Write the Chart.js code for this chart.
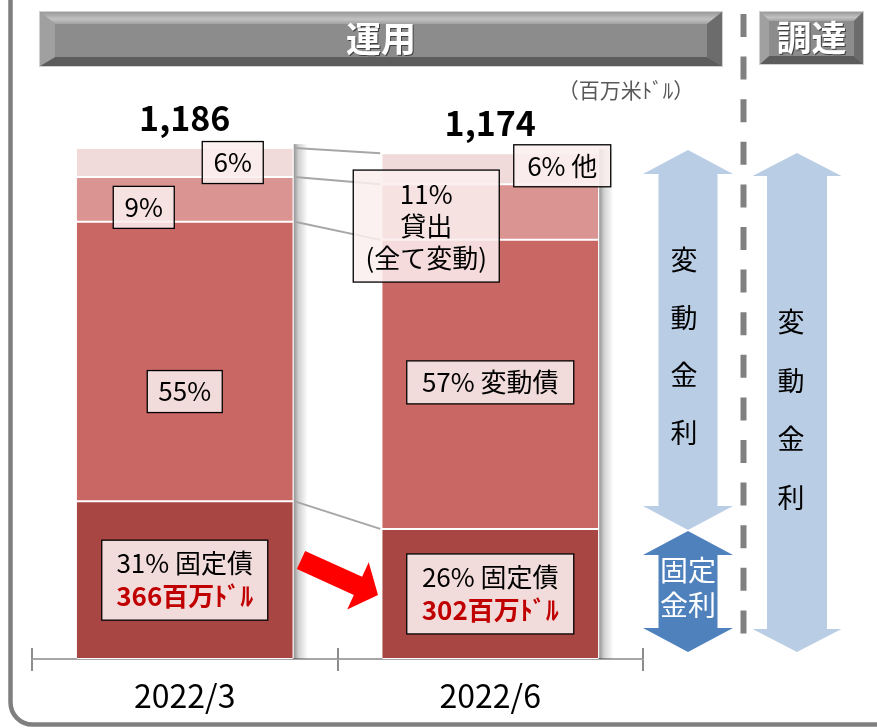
<!doctype html>
<html lang="ja">
  <head>
    <meta charset="UTF-8" />
    <title>運用・調達</title>
    <script src="https://cdn.jsdelivr.net/npm/chart.js"></script>
    <style>
      html, body { margin: 0; padding: 0; background: #fff; }
      #wrap { width: 877px; height: 728px; }
    </style>
  </head>
  <body>
    <div id="wrap"><canvas id="chart" width="877" height="728"></canvas></div>

    <script>
      // Data (百万米ﾄﾞﾙ)
      const periods = ["2022/3", "2022/6"];
      const fixedBonds = [366, 302];
      const floatBonds = [649, 671];
      const loans = [104, 129];
      const others = [67, 72];
      const yMax = 1300;

      const FONT = '"Noto Sans CJK JP", "Noto Sans", sans-serif';
      const totals = periods.map((_, i) => fixedBonds[i] + floatBonds[i] + loans[i] + others[i]);
      const pct = (v, i) => Math.round((v / totals[i]) * 100) + "%";

      // label boxes: dataset index, bar index, offset from segment centre, box size
      const labelBoxes = [
        { ds: 3, i: 0, dx: 48, dy: 0, w: 61, h: 42, light: true, lines: [pct(others[0], 0)] },
        { ds: 2, i: 0, dx: -41, dy: 8, w: 61, h: 42, light: true, lines: [pct(loans[0], 0)] },
        { ds: 1, i: 0, dx: 0, dy: 30, w: 75, h: 42, lines: [pct(floatBonds[0], 0)] },
        { ds: 0, i: 0, dx: 0, dy: 0, w: 166, h: 80, lines: [pct(fixedBonds[0], 0) + " 固定債"], red: fixedBonds[0] + "百万ﾄﾞﾙ" },
        { ds: 3, i: 1, dx: 72, dy: -3, w: 97, h: 42, light: true, lines: [pct(others[1], 1) + " 他"] },
        { ds: 2, i: 1, dx: -64, dy: 14, w: 146, h: 112, light: true, lines: [pct(loans[1], 1), "貸出", "(全て変動)"] },
        { ds: 1, i: 1, dx: 0, dy: -2, w: 167, h: 43, lines: [pct(floatBonds[1], 1) + " 変動債"] },
        { ds: 0, i: 1, dx: 0, dy: 0, w: 167, h: 80, lines: [pct(fixedBonds[1], 1) + " 固定債"], red: fixedBonds[1] + "百万ﾄﾞﾙ" },
      ];

      function poly(ctx, pts, fill) {
        ctx.beginPath();
        pts.forEach((p, k) => (k ? ctx.lineTo(p[0], p[1]) : ctx.moveTo(p[0], p[1])));
        ctx.closePath();
        ctx.fillStyle = fill;
        ctx.fill();
      }

      function bevelBox(ctx, x, y, w, h, bs, bt, bb, text) {
        ctx.fillStyle = "#d0d0d0";
        ctx.fillRect(x - 1, y - 1, w + 2, h + 2);
        ctx.fillStyle = "#8c8c8c";
        ctx.fillRect(x, y, w, h);
        const gt = ctx.createLinearGradient(0, y, 0, y + bt);
        gt.addColorStop(0, "#9a9a9a");
        gt.addColorStop(0.6, "#c2c2c2");
        gt.addColorStop(1, "#a2a2a2");
        poly(ctx, [[x, y], [x + w, y], [x + w - bs, y + bt], [x + bs, y + bt]], gt);
        poly(ctx, [[x, y + h], [x + w, y + h], [x + w - bs, y + h - bb], [x + bs, y + h - bb]], "#5c5c5c");
        poly(ctx, [[x, y], [x + bs, y + bt], [x + bs, y + h - bb], [x, y + h]], "#a0a0a0");
        poly(ctx, [[x + w, y], [x + w - bs, y + bt], [x + w - bs, y + h - bb], [x + w, y + h]], "#6c6c6c");
        ctx.font = "bold 35px " + FONT;
        ctx.textAlign = "center";
        ctx.textBaseline = "middle";
        ctx.fillStyle = "#404040";
        ctx.fillText(text, x + w / 2 + 1, y + h / 2 + 1);
        ctx.fillStyle = "#fff";
        ctx.fillText(text, x + w / 2, y + h / 2);
      }

      function doubleArrow(ctx, cx, top, bottom, shaftW, headW, headLen, color) {
        poly(ctx, [
          [cx, top], [cx + headW / 2, top + headLen], [cx + shaftW / 2, top + headLen],
          [cx + shaftW / 2, bottom - headLen], [cx + headW / 2, bottom - headLen], [cx, bottom],
          [cx - headW / 2, bottom - headLen], [cx - shaftW / 2, bottom - headLen],
          [cx - shaftW / 2, top + headLen], [cx - headW / 2, top + headLen],
        ], color);
      }

      const decor = {
        id: "decor",
        beforeDatasetsDraw(chart) {
          const ctx = chart.ctx;
          const base = chart.getDatasetMeta(0).data;
          const top = chart.getDatasetMeta(3).data;
          ctx.save();
          base.forEach((bar, i) => {
            const r = bar.x + bar.width / 2 + 1;
            const g = ctx.createLinearGradient(r, 0, r + 14, 0);
            g.addColorStop(0, "rgba(0,0,0,0.42)");
            g.addColorStop(0.35, "rgba(0,0,0,0.18)");
            g.addColorStop(1, "rgba(0,0,0,0)");
            ctx.fillStyle = g;
            ctx.fillRect(r, top[i].y - 4, 14, bar.base - top[i].y + 4);
          });
          ctx.restore();
        },
        afterDatasetsDraw(chart) {
          const ctx = chart.ctx;
          ctx.save();

          // connector lines between the two bars
          const metas = [0, 1, 2, 3].map((d) => chart.getDatasetMeta(d).data);
          ctx.strokeStyle = "#a6a6a6";
          ctx.lineWidth = 2;
          for (let d = 0; d < 4; d++) {
            const a = metas[d][0], b = metas[d][1];
            ctx.beginPath();
            ctx.moveTo(a.x + a.width / 2 + 2, a.y);
            ctx.lineTo(b.x - b.width / 2 - 2, b.y);
            ctx.stroke();
          }

          // totals above bars
          ctx.font = "bold 34px " + FONT;
          ctx.fillStyle = "#000";
          ctx.textAlign = "center";
          ctx.textBaseline = "middle";
          metas[3].forEach((bar, i) => {
            ctx.fillText(totals[i].toLocaleString("en-US"), bar.x, bar.y - 30);
          });

          // label boxes
          labelBoxes.forEach((lb) => {
            const bar = metas[lb.ds][lb.i];
            const cx = bar.x + lb.dx;
            const cy = (bar.y + bar.base) / 2 + lb.dy;
            ctx.fillStyle = lb.light ? "rgba(251,239,239,0.86)" : "#f2dcdb";
            ctx.fillRect(cx - lb.w / 2, cy - lb.h / 2, lb.w, lb.h);
            ctx.strokeStyle = "#000";
            ctx.lineWidth = 1.3;
            ctx.strokeRect(cx - lb.w / 2, cy - lb.h / 2, lb.w, lb.h);
            ctx.font = "26px " + FONT;
            ctx.fillStyle = "#000";
            if (lb.red) {
              ctx.fillText(lb.lines[0], cx, cy - 17);
              ctx.font = "bold 26px " + FONT;
              ctx.fillStyle = "#c00000";
              ctx.fillText(lb.red, cx, cy + 16);
            } else {
              const n = lb.lines.length;
              lb.lines.forEach((t, k) => ctx.fillText(t, cx, cy + (k - (n - 1) / 2) * 32));
            }
          });

          // red arrow between fixed bond segments
          const tail = [301, 560], tip = [378, 595];
          const L = Math.hypot(tip[0] - tail[0], tip[1] - tail[1]);
          const d = [(tip[0] - tail[0]) / L, (tip[1] - tail[1]) / L];
          const n = [d[1], -d[0]];
          const hb = [tip[0] - d[0] * 22, tip[1] - d[1] * 22];
          const P = (p, k, w) => [p[0] + n[0] * w * k, p[1] + n[1] * w * k];
          poly(ctx, [P(tail, 1, 10), P(hb, 1, 10), P(hb, 1, 26), tip, P(hb, -1, 26), P(hb, -1, 10), P(tail, -1, 10)], "#ff0000");

          ctx.restore();
        },
        afterDraw(chart) {
          const ctx = chart.ctx;
          const xs = chart.scales.x;
          ctx.save();

          // upward halves of the category tick marks
          ctx.strokeStyle = "#8c8c8c";
          ctx.lineWidth = 2;
          for (let k = 0; k <= periods.length; k++) {
            const gx = Math.round(xs.left + (k * xs.width) / periods.length);
            ctx.beginPath();
            ctx.moveTo(gx, xs.top - 11);
            ctx.lineTo(gx, xs.top);
            ctx.stroke();
          }

          // outer frame
          ctx.strokeStyle = "#7f7f7f";
          ctx.lineWidth = 4.5;
          ctx.beginPath();
          ctx.moveTo(10.5, 0);
          ctx.lineTo(10.5, 700);
          ctx.arcTo(10.5, 724.5, 35, 724.5, 22);
          ctx.lineTo(880, 724.5);
          ctx.stroke();

          // header bars
          bevelBox(ctx, 40, 12, 682, 54, 15, 12, 9, "運用");
          bevelBox(ctx, 760, 12, 103, 52, 9, 9, 8, "調達");

          // unit
          ctx.font = "21px " + FONT;
          ctx.fillStyle = "#595959";
          ctx.textAlign = "center";
          ctx.textBaseline = "middle";
          ctx.fillText("（百万米ﾄﾞﾙ）", 626, 90);

          // dashed divider
          ctx.strokeStyle = "#808080";
          ctx.lineWidth = 6;
          ctx.setLineDash([23, 19.6]);
          ctx.beginPath();
          ctx.moveTo(743.5, 14);
          ctx.lineTo(743.5, 634);
          ctx.stroke();
          ctx.setLineDash([]);

          // rate type arrows
          doubleArrow(ctx, 688, 150, 530, 59, 90, 24, "#b9cde5");
          doubleArrow(ctx, 688, 531, 652, 59, 90, 24, "#4f81bd");
          doubleArrow(ctx, 797, 153, 652, 60, 89, 23, "#b9cde5");

          ctx.font = "27px " + FONT;
          ctx.fillStyle = "#000";
          ["変", "動", "金", "利"].forEach((c, k) => {
            ctx.fillText(c, 684, 260 + k * 57.5);
            ctx.fillText(c, 791, 322 + k * 58.5);
          });
          ctx.font = "28px " + FONT;
          ctx.fillStyle = "#fff";
          ctx.fillText("固定", 688, 570);
          ctx.fillText("金利", 688, 605);

          ctx.restore();
        },
      };

      const ctx = document.getElementById("chart").getContext("2d");

      const chart = new Chart(ctx, {
        type: "bar",
        data: {
          labels: periods,
          datasets: [
            { label: "固定債", data: fixedBonds, backgroundColor: "#a84644" },
            { label: "変動債", data: floatBonds, backgroundColor: "#c96764" },
            { label: "貸出", data: loans, backgroundColor: "#da9593" },
            { label: "他", data: others, backgroundColor: "#f0dada" },
          ].map((ds) => ({
            ...ds,
            borderColor: "#ffffff",
            borderWidth: { top: 1, bottom: 1, left: 0, right: 0 },
            borderSkipped: false,
            categoryPercentage: 1,
            barPercentage: 0.707,
          })),
        },
        options: {
          responsive: false,
          animation: false,
          devicePixelRatio: 1,
          layout: { padding: { top: 99, left: 32, right: 234, bottom: 0 } },
          plugins: { legend: { display: false }, tooltip: { enabled: false } },
          scales: {
            x: {
              stacked: true,
              offset: true,
              grid: {
                offset: true,
                drawOnChartArea: false,
                tickLength: 12,
                color: "#8c8c8c",
                lineWidth: 2,
              },
              border: { color: "#a6a6a6", width: 2 },
              ticks: {
                color: "#000",
                font: { family: FONT, size: 32 },
                padding: 6,
                maxRotation: 0,
              },
              afterFit: (s) => {
                s.height = 69;
              },
            },
            y: { stacked: true, display: false, min: 0, max: yMax },
          },
        },
        plugins: [decor],
      });
    </script>
  </body>
</html>
